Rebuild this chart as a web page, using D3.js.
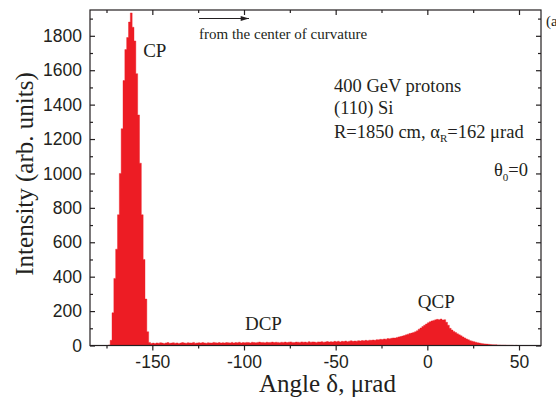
<!DOCTYPE html>
<html><head><meta charset="utf-8">
<script src="https://cdn.jsdelivr.net/npm/d3@7/dist/d3.min.js"></script>
<style>
body{margin:0;background:#fff;}
svg{display:block;}
.tl{font-family:"Liberation Sans",Arial,sans-serif;font-size:17.5px;fill:#231f20;}
.sf{font-family:"Liberation Serif","Times New Roman",serif;fill:#231f20;}
</style></head><body>
<svg id="c" width="556" height="397"></svg>
<script>
// ---- data ----
const binStart = -176;   // µrad, left edge of first bin
const binWidth = 1;      // µrad
const cpCounts = [0,0,3,30,190,390,560,760,1000,1260,1540,1720,1790,1880,1933,1850,1770,1580,1340,1060,760,500,270,80,18,12];
const dechCounts = [14,12,15,13,16,14,12,15,17,13,14,16,13,15,12,14,17,15,13,16,15,14,18,13,15,16,14,17,15,13,16,15,14,18,16,15,17,14,16,15,17,16,15,18,14,17,16,19,15,17,
  16,18,17,15,19,17,16,18,20,17,18,16,19,17,18,20,17,19,18,16,19,18,20,17,19,21,18,17,20,19,18,21,19,20,18,22,19,21,20,18,21,20,22,19,21,23,20,22,21,24,
  22,25,21,24,23,26,22,25,27,24,26,25,28,26,29,27,30,28,31,30,
  32,30,34,33,36,35,38,37,40,39,42,44,43,47,50,
  52,55,58,62,66,70,72,76,80,86];
const qcpCounts = [95,102,110,118,125,132,138,143,146,149,152,150,154,148,150,135,
  118,100,90,82,75,68,62,56,50,44,38,33,28,25,22,
  19,16,14,12,10,9,8,7,6,5,4,4,3,3,2,2,2,1,1,1,1,0,1,0,0];
const xTicks = [-150,-100,-50,0,50];
const xMinor = [-175,-125,-75,-25,25];
const yTicks = [0,200,400,600,800,1000,1200,1400,1600,1800];
const yMinor = [100,300,500,700,900,1100,1300,1500,1700,1900];
const xDomain = [-184, 62];
const yDomain = [0, 1950];
const labels = [
  {t:"CP", v:-155, c:1677},
  {t:"DCP", v:-99.5, c:90},
  {t:"QCP", v:-5.2, c:217}
];

// ---- chart ----
const counts = cpCounts.concat(dechCounts, qcpCounts);
const L=90, R=541, T=10, B=345.5;
const svg = d3.select("#c");
const x = d3.scaleLinear().domain(xDomain).range([L,R]);
const y = d3.scaleLinear().domain(yDomain).range([B,T]);

const pts = counts.map((c,i)=>[binStart+i*binWidth, c]);
pts.push([binStart+counts.length*binWidth, 0]);
const area = d3.area().x(d=>x(d[0])).y0(y(0)).y1(d=>y(d[1])).curve(d3.curveStepAfter);
svg.append("path").datum(pts).attr("d",area).attr("fill","#ed1c24")
  .attr("stroke","#ed1c24").attr("stroke-width",0.4).attr("stroke-linejoin","miter");

function styleAxis(g){ g.selectAll("path").remove(); g.selectAll("line").attr("stroke","#231f20").attr("stroke-width",1.2); }

// bottom
const gb = svg.append("g").attr("transform",`translate(0,${B})`);
gb.call(d3.axisBottom(x).tickValues(xTicks).tickSize(5).tickPadding(5).tickFormat(d=>d<0?"-"+Math.abs(d):String(d))).call(styleAxis);
gb.selectAll("text").attr("class","tl").attr("fill",null);
gb.append("g").call(d3.axisBottom(x).tickValues(xMinor).tickSize(3).tickFormat("")).call(styleAxis);
// top
const gt = svg.append("g").attr("transform",`translate(0,${T})`);
gt.call(d3.axisTop(x).tickValues(xTicks).tickSize(-5).tickFormat("")).call(styleAxis);
gt.append("g").call(d3.axisTop(x).tickValues(xMinor).tickSize(-3).tickFormat("")).call(styleAxis);
// left
const gl = svg.append("g").attr("transform",`translate(${L},0)`);
gl.call(d3.axisLeft(y).tickValues(yTicks).tickSize(-5).tickFormat(d3.format("d"))).call(styleAxis);
gl.selectAll("text").attr("class","tl").attr("fill",null).attr("x",-8);
gl.append("g").call(d3.axisLeft(y).tickValues(yMinor).tickSize(-3).tickFormat("")).call(styleAxis);
// right
const gr = svg.append("g").attr("transform",`translate(${R},0)`);
gr.call(d3.axisRight(y).tickValues(yTicks).tickSize(-5).tickFormat("")).call(styleAxis);
gr.append("g").call(d3.axisRight(y).tickValues(yMinor).tickSize(-3).tickFormat("")).call(styleAxis);

// frame
svg.append("rect").attr("x",L).attr("y",T).attr("width",R-L).attr("height",B-T)
  .attr("fill","none").attr("stroke","#231f20").attr("stroke-width",1.2);

// axis titles
svg.append("text").attr("class","sf").attr("font-size",25)
  .attr("transform",`translate(33,174) rotate(-90)`).attr("text-anchor","middle")
  .text("Intensity (arb. units)");
svg.append("text").attr("class","sf").attr("font-size",25)
  .attr("x",(L+R)/2+12).attr("y",392).attr("text-anchor","middle")
  .text("Angle δ, μrad");

// peak labels
labels.forEach(l=>{
  svg.append("text").attr("class","sf").attr("font-size",19)
    .attr("x",x(l.v)).attr("y",y(l.c)).text(l.t);
});

// annotations
svg.append("defs").append("marker").attr("id","ah").attr("viewBox","0 0 10 6")
  .attr("refX",10).attr("refY",3).attr("markerWidth",10).attr("markerHeight",5)
  .attr("markerUnits","userSpaceOnUse").attr("orient","auto")
  .append("path").attr("d","M0,0L10,3L0,6Z").attr("fill","#231f20");
svg.append("line").attr("x1",199).attr("x2",249).attr("y1",18.5).attr("y2",18.5)
  .attr("stroke","#231f20").attr("stroke-width",1.2).attr("marker-end","url(#ah)");
svg.append("text").attr("class","sf").attr("font-size",15).attr("x",199).attr("y",39)
  .text("from the center of curvature");

const info = svg.append("text").attr("class","sf").attr("font-size",18.5);
info.append("tspan").attr("x",334).attr("y",92).text("400 GeV protons");
info.append("tspan").attr("x",334).attr("y",114).text("(110) Si");
const r3 = svg.append("text").attr("class","sf").attr("font-size",18.5).attr("x",334).attr("y",138);
r3.append("tspan").text("R=1850 cm, α");
r3.append("tspan").attr("font-size",11).attr("dy",4).text("R");
r3.append("tspan").attr("dy",-4).text("=162 μrad");
const th = svg.append("text").attr("class","sf").attr("font-size",18.5).attr("x",528).attr("y",176).attr("text-anchor","end");
th.append("tspan").text("θ");
th.append("tspan").attr("font-size",11).attr("dy",5).text("0");
th.append("tspan").attr("dy",-5).text("=0");
svg.append("text").attr("class","sf").attr("font-size",15).attr("x",546).attr("y",26).text("(a)");
</script>
</body></html>
